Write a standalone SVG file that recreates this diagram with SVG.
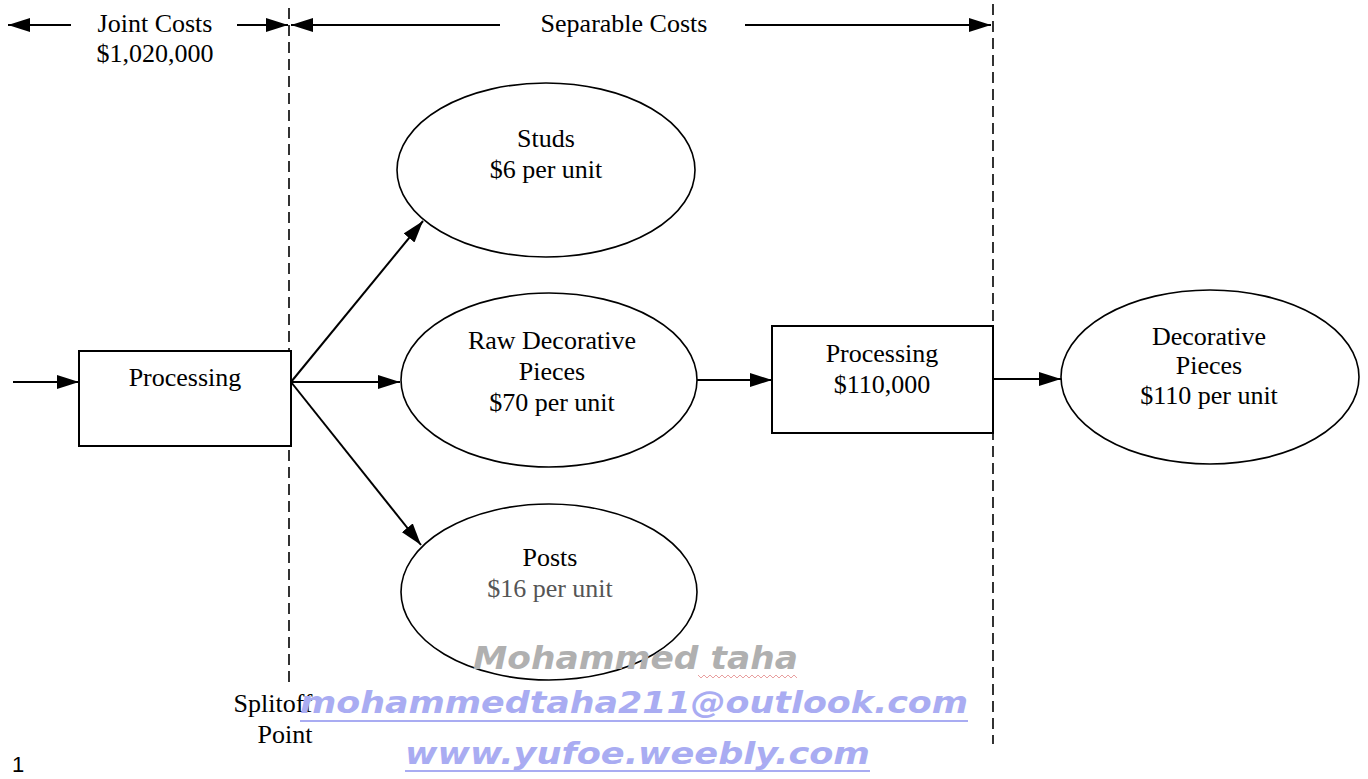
<svg xmlns="http://www.w3.org/2000/svg" width="1368" height="779" viewBox="0 0 1368 779">
  <style>
    .lbl { font-family: "Liberation Serif", "Times New Roman", serif; font-size: 26px; fill: #000; text-anchor: middle; }
    .node { fill: #fff; stroke: #000; stroke-width: 2; }
    .oval { fill: #fff; stroke: #000; stroke-width: 1.6; }
    .conn { stroke: #000; stroke-width: 2; fill: none; }
    .split { stroke: #000; stroke-width: 1.6; stroke-dasharray: 11 6; fill: none; }
    .mark { font-family: "DejaVu Sans", Verdana, sans-serif; font-weight: bold; font-style: italic; }
  </style>
  <defs>
    <marker id="arrow" markerUnits="userSpaceOnUse" markerWidth="24" markerHeight="14" refX="22" refY="7" orient="auto">
      <path d="M0,0 L22,7 L0,14 Z" fill="#000"/>
    </marker>
  </defs>
  <rect width="1368" height="779" fill="#fff"/>

  <!-- split-off boundaries -->
  <g id="boundaries">
    <line class="split" x1="289" y1="8" x2="289" y2="686"/>
    <line class="split" x1="993" y1="4" x2="993" y2="744"/>
  </g>

  <!-- cost range headers -->
  <g id="cost-headers">
    <line class="conn" x1="71" y1="25" x2="8" y2="25" marker-end="url(#arrow)"/>
    <line class="conn" x1="237" y1="25" x2="288" y2="25" marker-end="url(#arrow)"/>
    <text class="lbl" x="155" y="32">Joint Costs</text>
    <text class="lbl" x="155" y="62">$1,020,000</text>
    <line class="conn" x1="500" y1="25" x2="291" y2="25" marker-end="url(#arrow)"/>
    <line class="conn" x1="745" y1="25" x2="991" y2="25" marker-end="url(#arrow)"/>
    <text class="lbl" x="624" y="32">Separable Costs</text>
  </g>

  <!-- connectors -->
  <g id="connectors">
    <line class="conn" x1="13" y1="382" x2="79" y2="382" marker-end="url(#arrow)"/>
    <line class="conn" x1="291" y1="382" x2="423" y2="221" marker-end="url(#arrow)"/>
    <line class="conn" x1="291" y1="382" x2="400" y2="382" marker-end="url(#arrow)"/>
    <line class="conn" x1="291" y1="382" x2="421" y2="545" marker-end="url(#arrow)"/>
    <line class="conn" x1="697" y1="380" x2="772" y2="380" marker-end="url(#arrow)"/>
    <line class="conn" x1="993" y1="379" x2="1061" y2="379" marker-end="url(#arrow)"/>
  </g>

  <g id="joint-processing">
    <rect class="node" x="79" y="351" width="212" height="95"/>
    <text class="lbl" x="185" y="386">Processing</text>
  </g>

  <g id="studs">
    <ellipse class="oval" cx="546" cy="170" rx="149" ry="87"/>
    <text class="lbl" x="546" y="147">Studs</text>
    <text class="lbl" x="546" y="178">$6 per unit</text>
  </g>

  <g id="raw-decorative">
    <ellipse class="oval" cx="549" cy="380" rx="148" ry="87"/>
    <text class="lbl" x="552" y="349">Raw Decorative</text>
    <text class="lbl" x="552" y="380">Pieces</text>
    <text class="lbl" x="552" y="411">$70 per unit</text>
  </g>

  <g id="posts">
    <ellipse class="oval" cx="549" cy="592" rx="148" ry="88"/>
    <text class="lbl" x="550" y="566">Posts</text>
    <text class="lbl" x="550" y="597" style="fill:#555">$16 per unit</text>
  </g>

  <g id="further-processing">
    <rect class="node" x="772" y="326" width="221" height="107"/>
    <text class="lbl" x="882" y="362">Processing</text>
    <text class="lbl" x="882" y="393">$110,000</text>
  </g>

  <g id="decorative">
    <ellipse class="oval" cx="1210" cy="377" rx="149" ry="87"/>
    <text class="lbl" x="1209" y="345">Decorative</text>
    <text class="lbl" x="1209" y="374">Pieces</text>
    <text class="lbl" x="1209" y="404">$110 per unit</text>
  </g>

  <g id="splitoff-label">
    <text class="lbl" x="273" y="712">Splitoff</text>
    <text class="lbl" x="285" y="743">Point</text>
  </g>

  <!-- page number -->
  <text x="12" y="772" style="font-family:'Liberation Sans',Arial,sans-serif;font-size:22px;fill:#000">1</text>

  <!-- author stamp -->
  <g id="stamp">
    <text class="mark" x="473" y="669" textLength="325" lengthAdjust="spacingAndGlyphs" style="font-size:32px;fill:#b0b0b0">Mohammed taha</text>
    <path d="M698,675 l3,3 l3,-3 l3,3 l3,-3 l3,3 l3,-3 l3,3 l3,-3 l3,3 l3,-3 l3,3 l3,-3 l3,3 l3,-3 l3,3 l3,-3 l3,3 l3,-3 l3,3 l3,-3 l3,3 l3,-3 l3,3 l3,-3 l3,3 l3,-3 l3,3 l3,-3 l3,3 l3,-3 l3,3 l3,-3 l3,3" fill="none" stroke="#e8a0a0" stroke-width="1"/>
    <text class="mark" x="300" y="713" textLength="668" lengthAdjust="spacingAndGlyphs" style="font-size:30px;fill:#a9acf2">mohammedtaha211@outlook.com</text>
    <line x1="300" y1="721" x2="968" y2="721" stroke="#a9acf2" stroke-width="2"/>
    <text class="mark" x="405" y="764" textLength="465" lengthAdjust="spacingAndGlyphs" style="font-size:30px;fill:#a9acf2">www.yufoe.weebly.com</text>
    <line x1="405" y1="771" x2="870" y2="771" stroke="#a9acf2" stroke-width="2"/>
  </g>
</svg>
